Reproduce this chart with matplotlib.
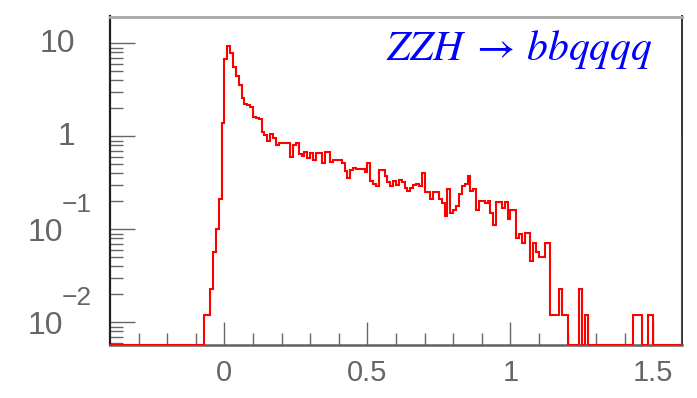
import numpy as np
import matplotlib
matplotlib.use("Agg")
import matplotlib.pyplot as plt
from matplotlib.ticker import FixedLocator, LogLocator, NullFormatter

# Histogram binning (bin width 0.01 over the plotted range, plus one bin past the right edge)
bin_width = 0.01
x_low, x_high = -0.40, 1.61

# Contents of consecutive bins starting at x = -0.07
core_start = -0.07
core_counts = [
    0.012, 0.012, 0.023, 0.057, 0.10, 0.21, 1.38,                 # -0.07 .. -0.01
    6.7, 9.4, 7.8, 5.6, 4.4, 3.6, 2.6, 2.25, 2.15, 2.05,          # 0.00 .. 0.09
    1.6, 1.56, 1.52, 1.12, 1.03, 0.88, 1.06, 0.95, 0.80, 0.84,    # 0.10 .. 0.19
    0.84, 0.84, 0.84, 0.60, 0.80, 0.84, 0.64, 0.62, 0.67, 0.58,   # 0.20 .. 0.29
    0.66, 0.55, 0.66, 0.66, 0.52, 0.67, 0.67, 0.53, 0.55, 0.55,   # 0.30 .. 0.39
    0.55, 0.52, 0.42, 0.36, 0.43, 0.46, 0.44, 0.45, 0.44, 0.41,   # 0.40 .. 0.49
    0.52, 0.33, 0.31, 0.29, 0.43, 0.43, 0.37, 0.32, 0.29, 0.33,   # 0.50 .. 0.59
    0.30, 0.34, 0.32, 0.28, 0.26, 0.28, 0.30, 0.31, 0.29, 0.40,   # 0.60 .. 0.69
    0.25, 0.25, 0.21, 0.25, 0.25, 0.21, 0.19, 0.14, 0.27, 0.15,   # 0.70 .. 0.79
    0.16, 0.18, 0.24, 0.29, 0.31, 0.37, 0.26, 0.27, 0.16, 0.20,   # 0.80 .. 0.89
    0.20, 0.19, 0.20, 0.15, 0.11, 0.195, 0.195, 0.17, 0.195, 0.13,  # 0.90 .. 0.99
    0.16, 0.16, 0.08, 0.09, 0.071, 0.092, 0.092, 0.046, 0.071, 0.057,  # 1.00 .. 1.09
    0.05, 0.05, 0.072, 0.072, 0.012, 0.012, 0.012, 0.023, 0.012, 0.012,  # 1.10 .. 1.19
    0.0, 0.0, 0.0, 0.0, 0.023, 0.0, 0.012,                        # 1.20 .. 1.26
]

# Isolated entries in the far tail (bin lower edge, content)
tail_edges = [1.43, 1.44, 1.45, 1.48, 1.49, 1.60]
tail_counts = [0.012, 0.012, 0.012, 0.012, 0.012, 1.0]

x_major = [0.0, 0.5, 1.0, 1.5]
x_labels = ["0", "0.5", "1", "1.5"]
y_major = [0.01, 0.1, 1.0, 10.0]
title = r"$ZZH\;\rightarrow\,bbqqqq$"

x_lim = (-0.4, 1.6)
y_lim = (0.0057, 19.4)

# ---- assemble the full histogram ----
n_bins = int(round((x_high - x_low) / bin_width))
edges = np.round(x_low + bin_width * np.arange(n_bins + 1), 2)
counts = np.zeros(n_bins)
i0 = int(round((core_start - x_low) / bin_width))
counts[i0:i0 + len(core_counts)] = core_counts
for e, c in zip(tail_edges, tail_counts):
    counts[int(round((e - x_low) / bin_width))] = c
# empty bins sit on the lower frame edge of the log axis
drawn = np.where(counts > 0, counts, y_lim[0])

W, H, DPI = 697, 398, 100
fig = plt.figure(figsize=(W / DPI, H / DPI), dpi=DPI)
ax = fig.add_axes([110 / W, 1 - 345 / H, (682 - 110) / W, (345 - 16.5) / H])

ax.stairs(drawn, edges, baseline=y_lim[0], color="#ff0000", lw=1.5, zorder=3)

ax.set_yscale("log")
ax.set_xlim(*x_lim)
ax.set_ylim(*y_lim)

tick_font = "Liberation Sans"
label_color = "#666666"
tick_color = "#666666"

ax.xaxis.set_major_locator(FixedLocator(x_major))
ax.set_xticklabels(x_labels, fontfamily=tick_font, fontsize=21, color=label_color)
ax.xaxis.set_minor_locator(FixedLocator([v for v in np.round(np.arange(-0.3, 1.6, 0.1), 1)
                                         if v not in x_major]))
ax.tick_params(axis="x", which="major", direction="in", length=16.5, width=1.0,
               color=tick_color, pad=10, top=False)
ax.tick_params(axis="x", which="minor", direction="in", length=8.6, width=1.0,
               color=tick_color, top=False)

ax.yaxis.set_major_locator(FixedLocator(y_major))
ax.yaxis.set_minor_locator(LogLocator(base=10, subs=np.arange(2, 10)))
ax.yaxis.set_major_formatter(NullFormatter())
ax.yaxis.set_minor_formatter(NullFormatter())
ax.tick_params(axis="y", which="major", direction="in", length=18, width=1.0,
               color=tick_color, right=False)
ax.tick_params(axis="y", which="minor", direction="in", length=9, width=1.0,
               color=tick_color, right=False)

# y labels in "10^n" style
for v in y_major:
    e = int(round(np.log10(v)))
    if e >= 0:
        ax.annotate(str(int(round(v))), xy=(0, v), xycoords=("axes fraction", "data"),
                    xytext=(-35, -1), textcoords="offset pixels", ha="right", va="center",
                    fontfamily=tick_font, fontsize=23, color=label_color)
    else:
        ax.annotate("10", xy=(0, v), xycoords=("axes fraction", "data"),
                    xytext=(-47, -4), textcoords="offset pixels", ha="right", va="center",
                    fontfamily=tick_font, fontsize=23, color=label_color)
        ax.annotate("\u2212" + str(-e), xy=(0, v), xycoords=("axes fraction", "data"),
                    xytext=(-48, 24), textcoords="offset pixels", ha="left", va="center",
                    fontfamily=tick_font, fontsize=19, color=label_color)

# frame
ax.spines["top"].set_color("#a8a8a8")
ax.spines["top"].set_linewidth(2.0)
ax.spines["left"].set_color("#222222")
ax.spines["left"].set_linewidth(1.6)
ax.spines["bottom"].set_color("#606060")
ax.spines["bottom"].set_linewidth(1.8)
ax.spines["right"].set_color("#333333")
ax.spines["right"].set_linewidth(1.4)

ax.text(0.949, 0.8676, title, transform=ax.transAxes, ha="right", va="baseline",
        fontsize=30, color="#0000ff", math_fontfamily="stix")

fig.savefig("out.png", dpi=DPI)
